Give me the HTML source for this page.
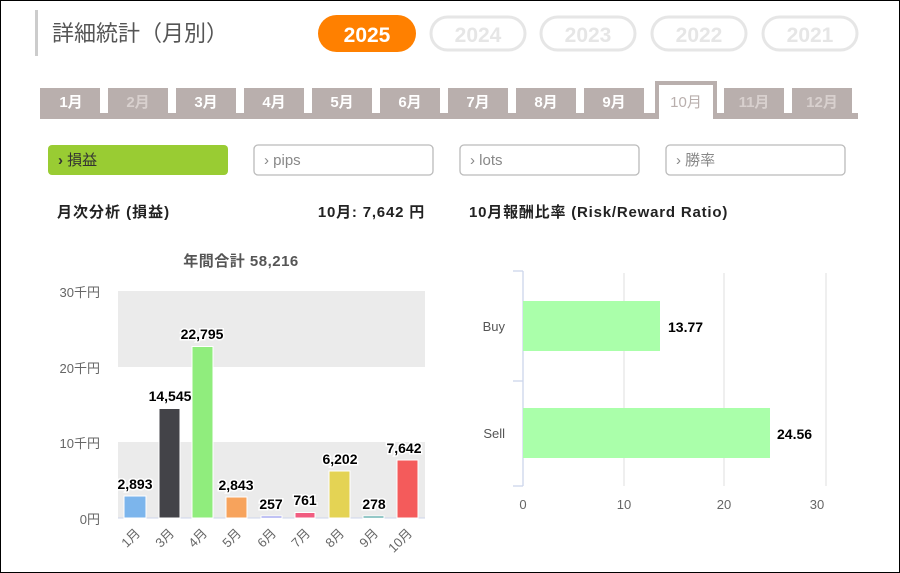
<!DOCTYPE html>
<html><head><meta charset="utf-8"><style>
html,body{margin:0;padding:0;background:#fff}
svg{display:block}
text{font-family:"Liberation Sans","Noto Sans CJK JP",sans-serif}
</style></head><body>
<svg width="900" height="573" viewBox="0 0 900 573" xmlns="http://www.w3.org/2000/svg">
<rect x="0.5" y="0.5" width="899" height="572" fill="#fff" stroke="#000"/>
<rect x="35" y="10" width="3" height="46" fill="#ccc"/>
<text x="52" y="41" font-size="22" fill="#555">詳細統計（月別）</text>
<rect x="318" y="15" width="98" height="37" rx="18.5" fill="#ff8000"/>
<text x="367" y="42" font-size="21" font-weight="bold" fill="#fff" text-anchor="middle">2025</text>
<g fill="none" stroke="#e6e6e6" stroke-width="3">
<rect x="431" y="17" width="94" height="33" rx="16.5"/>
<rect x="541" y="17" width="94" height="33" rx="16.5"/>
<rect x="652" y="17" width="94" height="33" rx="16.5"/>
<rect x="763" y="17" width="94" height="33" rx="16.5"/>
</g>
<g font-size="21" font-weight="bold" fill="#e6e6e6" text-anchor="middle">
<text x="478" y="42">2024</text><text x="588" y="42">2023</text><text x="699" y="42">2022</text><text x="810" y="42">2021</text>
</g>
<rect x="40" y="113" width="818" height="6" fill="#b9afad"/>
<g fill="#b9afad">
<rect x="40" y="88" width="60" height="25"/><rect x="108" y="88" width="60" height="25"/><rect x="176" y="88" width="60" height="25"/><rect x="244" y="88" width="60" height="25"/><rect x="312" y="88" width="60" height="25"/><rect x="380" y="88" width="60" height="25"/><rect x="448" y="88" width="60" height="25"/><rect x="516" y="88" width="60" height="25"/><rect x="584" y="88" width="60" height="25"/><rect x="724" y="88" width="60" height="25"/><rect x="792" y="88" width="60" height="25"/>
</g>
<rect x="655" y="81" width="62" height="38" fill="#b9afad"/>
<rect x="659" y="85" width="54" height="34" fill="#fff"/>
<g font-size="15" font-weight="bold" fill="#fff" text-anchor="middle">
<text x="71" y="107">1月</text><text x="138" y="107" fill="#d8d0ce">2月</text><text x="206" y="107">3月</text><text x="274" y="107">4月</text><text x="342" y="107">5月</text><text x="410" y="107">6月</text><text x="478" y="107">7月</text><text x="546" y="107">8月</text><text x="614" y="107">9月</text><text x="686" y="107" fill="#b9afad" font-weight="normal">10月</text><text x="754" y="107" fill="#d8d0ce">11月</text><text x="822" y="107" fill="#d8d0ce">12月</text>
</g>
<rect x="48" y="145" width="180" height="30" rx="4" fill="#99cc33"/>
<text x="58" y="165" font-size="15" fill="#333"><tspan font-weight="bold">›</tspan> 損益</text>
<g fill="#fff" stroke="#bbb" stroke-width="1.3">
<rect x="254" y="145" width="179" height="30" rx="4"/><rect x="460" y="145" width="179" height="30" rx="4"/><rect x="666" y="145" width="179" height="30" rx="4"/>
</g>
<g font-size="15" fill="#888"><text x="264" y="165">› pips</text><text x="470" y="165">› lots</text><text x="676" y="165">› 勝率</text></g>
<g font-size="15" font-weight="bold" fill="#222">
<text x="57" y="217" letter-spacing="1">月次分析 (損益)</text>
<text x="425" y="217" text-anchor="end" letter-spacing="0.8">10月:  7,642 円</text>
<text x="469" y="217" letter-spacing="0.8">10月報酬比率 (Risk/Reward Ratio)</text>
</g>
<text x="241" y="266" font-size="15" font-weight="bold" fill="#555" text-anchor="middle" letter-spacing="0.5">年間合計 58,216</text>
<rect x="118" y="291" width="307" height="76" fill="#ebebeb"/>
<rect x="118" y="442" width="307" height="76" fill="#ebebeb"/>
<line x1="118" y1="518" x2="425" y2="518" stroke="#ccd6eb"/>
<g font-size="13" fill="#666" text-anchor="end"><text x="100" y="297">30千円</text><text x="100" y="373">20千円</text><text x="100" y="448">10千円</text><text x="100" y="524">0円</text></g>
<g stroke="#fff" stroke-width="1">
<rect x="124" y="496" width="22" height="22" fill="#7cb5ec"/>
<rect x="159" y="408.5" width="21" height="109.5" fill="#434348"/>
<rect x="192" y="346.5" width="21" height="171.5" fill="#90ed7d"/>
<rect x="226" y="497" width="21" height="21" fill="#f7a35c"/>
<rect x="261" y="516" width="21" height="2" fill="#8085e9"/>
<rect x="295" y="512.5" width="20" height="5.5" fill="#f15c80"/>
<rect x="329" y="471" width="21" height="47" fill="#e4d354"/>
<rect x="363" y="516" width="21" height="2" fill="#2b908f"/>
<rect x="397" y="460" width="21" height="58" fill="#f45b5b"/>
</g>
<g font-size="14" font-weight="bold" fill="#000" text-anchor="middle" stroke="#fff" stroke-width="3" paint-order="stroke">
<text x="135" y="489">2,893</text><text x="170" y="401">14,545</text><text x="202" y="339">22,795</text><text x="236" y="490">2,843</text><text x="271" y="509">257</text><text x="305" y="505">761</text><text x="340" y="464">6,202</text><text x="374" y="509">278</text><text x="404" y="453">7,642</text>
</g>
<g font-size="13" fill="#666" text-anchor="end">
<text transform="translate(141,534) rotate(-45)">1月</text><text transform="translate(175,534) rotate(-45)">3月</text><text transform="translate(208,534) rotate(-45)">4月</text><text transform="translate(242,534) rotate(-45)">5月</text><text transform="translate(277,534) rotate(-45)">6月</text><text transform="translate(311,534) rotate(-45)">7月</text><text transform="translate(345,534) rotate(-45)">8月</text><text transform="translate(379,534) rotate(-45)">9月</text><text transform="translate(413,534) rotate(-45)">10月</text>
</g>
<g stroke="#e6e6e6" stroke-width="1.3"><line x1="624" y1="273" x2="624" y2="486"/><line x1="724" y1="273" x2="724" y2="486"/><line x1="826" y1="273" x2="826" y2="486"/></g>
<g stroke="#ccd6eb" stroke-width="1.3" fill="none"><line x1="523" y1="271" x2="523" y2="486"/><line x1="513" y1="271" x2="523" y2="271"/><line x1="513" y1="381" x2="523" y2="381"/><line x1="513" y1="486" x2="523" y2="486"/></g>
<rect x="523" y="301" width="137" height="50" fill="#aaffaa"/>
<rect x="523" y="408" width="247" height="50" fill="#aaffaa"/>
<g font-size="13" fill="#555" text-anchor="end"><text x="505" y="331">Buy</text><text x="505" y="438">Sell</text></g>
<g font-size="14" font-weight="bold" fill="#000"><text x="668" y="332">13.77</text><text x="777" y="439">24.56</text></g>
<g font-size="13" fill="#666" text-anchor="middle"><text x="523" y="509">0</text><text x="624" y="509">10</text><text x="724" y="509">20</text><text x="817" y="509">30</text></g>
</svg>
</body></html>
